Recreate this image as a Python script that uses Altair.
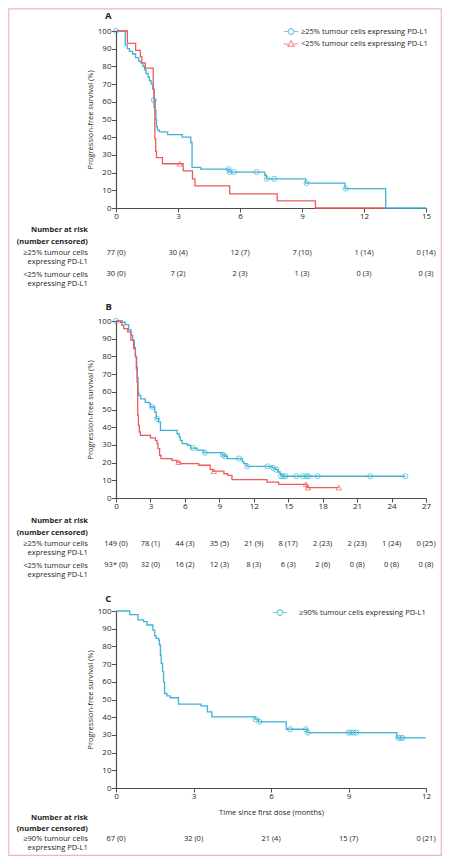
import altair as alt
import pandas as pd

FONT = "Open Sans"
INK = "#231f20"
AXIS_C = "#4d4d4d"
BLUE = "#3db3d6"
RED = "#ef5a5a"
PINK = "#f0b2c4"

HI25 = "≥25% tumour cells expressing PD-L1"
LO25 = "<25% tumour cells expressing PD-L1"
HI90 = "≥90% tumour cells expressing PD-L1"
ROW_HI25 = "≥25% tumour cells|expressing PD-L1"
ROW_LO25 = "<25% tumour cells|expressing PD-L1"
ROW_HI90 = "≥90% tumour cells|expressing PD-L1"

# ---------------- Panel A ----------------
a_hi_t = [0, 0.45, 0.55, 0.65, 0.8, 0.95, 1.1, 1.2, 1.3, 1.38, 1.45, 1.55, 1.62, 1.7, 1.78, 1.85, 1.9, 1.93,
          1.96, 2.0, 2.1, 2.5, 3.2, 3.62, 3.68, 4.1, 5.47, 7.2, 7.28, 9.18, 11.08, 13.05, 15]
a_hi_s = [100, 92, 90, 88.5, 87, 85, 83, 82, 80, 78, 76, 74, 72, 70, 67, 61, 55, 50,
          46, 44, 43, 41.5, 40, 37, 23, 22, 20.3, 18.5, 16.5, 14.1, 11, 0, 0]
a_hi_cens_t = [0, 1.83, 5.45, 5.5, 5.7, 6.8, 7.3, 7.65, 9.22, 11.12]
a_hi_cens_s = [100, 61, 22, 20.3, 20.3, 20.3, 16.5, 16.5, 14.1, 11]

a_lo_t = [0, 0.55, 0.95, 1.18, 1.25, 1.42, 1.8, 1.84, 1.88, 1.92, 1.96, 2.25, 3.25, 3.7, 3.82, 5.5, 7.8, 9.65, 13.05]
a_lo_s = [100, 93, 89, 85.5, 82, 79, 67, 57, 39, 32, 28.5, 25, 21, 16.5, 12.5, 8, 4, 0, 0]
a_lo_cens_t = [3.08]
a_lo_cens_s = [25]

risk_times_a = [0, 3, 6, 9, 12, 15]
risk_hi25_a = ["77 (0)", "30 (4)", "12 (7)", "7 (10)", "1 (14)", "0 (14)"]
risk_lo25_a = ["30 (0)", "7 (2)", "2 (3)", "1 (3)", "0 (3)", "0 (3)"]

# ---------------- Panel B ----------------
b_hi_t = [0, 0.38, 0.8, 1.1, 1.3, 1.45, 1.6, 1.69, 1.8, 1.86, 1.92, 1.98, 2.15, 2.55, 2.9, 3.0, 3.37, 3.5,
          3.7, 3.87, 5.32, 5.5, 5.6, 5.76, 6.2, 6.5, 7.06, 7.65, 9.25, 9.45, 9.7, 11.0, 11.13, 11.4, 13.6,
          13.9, 14.1, 14.3, 14.45, 25.2]
b_hi_s = [100, 99.3, 98, 95, 92, 89, 85, 80, 74, 68, 60, 58, 56, 54, 53.3, 51.4, 48.6, 44.8,
          43, 38.2, 36.3, 34.5, 32.6, 30.7, 29.8, 28.2, 27, 25.6, 24.4, 23.6, 22.3, 20.5, 19.4, 17.9, 17,
          16, 14.7, 13.4, 12.3, 12.3]
b_hi_cens_t = [0, 3.14, 3.57, 6.7, 7.74, 9.3, 9.5, 10.7, 11.42, 13.2, 13.67, 13.96, 14.37, 14.54, 14.75,
               15.7, 16.26, 16.58, 16.78, 17.56, 22.15, 25.2]
b_hi_cens_s = [100, 51.4, 44.8, 28.2, 25.6, 24.4, 23.6, 22.3, 17.9, 17.9, 17, 16, 12.3, 12.3, 12.3,
               12.3, 12.3, 12.3, 12.3, 12.3, 12.3, 12.3]

b_lo_t = [0, 0.52, 0.67, 1.02, 1.3, 1.54, 1.69, 1.77, 1.83, 1.89, 1.95, 2.03, 2.12, 3.0, 3.43, 3.58, 3.66,
          3.8, 3.92, 4.88, 5.3, 5.6, 7.2, 8.2, 8.42, 9.4, 9.74, 10.1, 13.15, 14.17, 16.62, 19.4]
b_lo_s = [100, 97.5, 95.7, 93.8, 89, 84.4, 79.7, 73, 65.5, 46.7, 41, 37.3, 35.4, 34, 32.6, 30.7, 27.9,
          24.1, 22.2, 21.3, 20.3, 19.4, 18.5, 16.2, 15.2, 13.7, 12.8, 10.4, 9.0, 7.7, 5.9, 5.9]
b_lo_cens_t = [5.45, 8.52, 16.55, 16.72, 19.4]
b_lo_cens_s = [20.3, 15.2, 7.7, 5.9, 5.9]

risk_times_b = [0, 3, 6, 9, 12, 15, 18, 21, 24, 27]
risk_hi25_b = ["149 (0)", "78 (1)", "44 (3)", "35 (5)", "21 (9)", "8 (17)", "2 (23)", "2 (23)", "1 (24)", "0 (25)"]
risk_lo25_b = ["93* (0)", "32 (0)", "16 (2)", "12 (3)", "8 (3)", "6 (3)", "2 (6)", "0 (8)", "0 (8)", "0 (8)"]

# ---------------- Panel C ----------------
c_t = [0, 0.53, 0.85, 1.07, 1.2, 1.43, 1.5, 1.55, 1.65, 1.68, 1.72, 1.75, 1.8, 1.84, 1.88, 1.97, 2.1, 2.42,
       3.29, 3.54, 3.71, 5.38, 5.52, 6.59, 7.4, 10.87, 11.99]
c_s = [100, 98, 95, 94, 92.1, 89.2, 86, 84.5, 83.6, 80.8, 75, 70.4, 65.7, 60, 53.4, 52, 51, 47.4,
       46.4, 43, 40.2, 38.9, 37.4, 33.2, 31.3, 28.3, 28.3]
c_cens_t = [5.4, 5.55, 6.74, 7.35, 7.43, 9.0, 9.1, 9.2, 9.3, 10.93, 11.02, 11.1]
c_cens_s = [38.9, 37.4, 33.2, 33.2, 31.3, 31.3, 31.3, 31.3, 31.3, 28.3, 28.3, 28.3]

risk_times_c = [0, 3, 6, 9, 12]
risk_hi90_c = ["67 (0)", "32 (0)", "21 (4)", "15 (7)", "0 (21)"]

# legend symbols: short line with marker in the middle
LEG_CIRCLE = "M-1.8,0L-0.7,0M0.7,0L1.8,0M0.7,0A0.7,0.7,0,1,1,-0.7,0A0.7,0.7,0,1,1,0.7,0"
LEG_TRIANGLE = "M-1.8,0L-0.78,0M0.78,0L1.8,0M0,-0.8L0.8,0.55L-0.8,0.55Z"

W = 310
H = 177


def panel(letter, letter_xy, xmax, curves, censors, legend_spec, rows, header_y, row_y, xtitle, border):
    groups = [c[0] for c in curves]
    colors = [c[1] for c in curves]

    x_kw = dict(values=list(range(0, xmax + 1, 3)), labelFlush=False, tickSize=4, labelPadding=0,
                labelFont=FONT, labelFontSize=8, labelColor=INK, domainColor=AXIS_C, domainWidth=1.2,
                tickColor=AXIS_C, tickWidth=1, grid=False)
    if xtitle:
        x_kw.update(title=xtitle, titleFont=FONT, titleFontSize=7.5, titleFontWeight="normal",
                    titleColor=INK, titleX=W / 2, titleY=24, titleBaseline="middle", titleAlign="center")
    else:
        x_kw.update(title=None)
    xenc = alt.X("t:Q", scale=alt.Scale(domain=[0, xmax], nice=False, zero=True), axis=alt.Axis(**x_kw))
    yenc = alt.Y("s:Q", scale=alt.Scale(domain=[0, 100], nice=False),
                 axis=alt.Axis(values=list(range(0, 101, 10)), tickSize=4.5, labelPadding=0.5,
                               labelFont=FONT, labelFontSize=8, labelColor=INK, domainColor=AXIS_C,
                               domainWidth=1.2, tickColor=AXIS_C, tickWidth=1, grid=False,
                               title="Progression-free survival (%)", titleFont=FONT, titleFontSize=7.5,
                               titleFontWeight="normal", titleColor=INK, titleX=-25.7, titleY=H / 2,
                               titleAngle=270, titleAlign="center", titleBaseline="middle"))

    layers = []
    for g, color, t, s in curves:
        df = pd.DataFrame({"group": g, "t": t, "s": s})
        layers.append(alt.Chart(df).mark_line(interpolate="step-after", strokeWidth=1.3, color=color).encode(
            x=xenc, y=yenc))
    for g, color, shape, size, t, s in censors:
        df = pd.DataFrame({"group": g, "t": t, "s": s})
        layers.append(alt.Chart(df).mark_point(shape=shape, filled=False, size=size, strokeWidth=1,
                                               color=color).encode(x=xenc, y=yenc))

    if legend_spec:
        lx, ly, loff, rpad, paths = legend_spec
        cscale = alt.Scale(domain=groups, range=colors)
        leg = alt.Legend(orient="none", legendX=lx, legendY=ly, title=None, padding=0,
                         labelFont=FONT, labelFontSize=7.5, labelColor=INK, labelLimit=300,
                         labelOffset=loff, rowPadding=rpad, symbolSize=64, symbolStrokeWidth=1.2)
        ldf = pd.DataFrame({"group": groups, "t": [None] * len(groups), "s": [None] * len(groups)})
        layers.append(alt.Chart(ldf).mark_point(filled=False, size=64, strokeWidth=1.2, invalid="filter").encode(
            x=xenc, y=yenc,
            color=alt.Color("group:N", scale=cscale, legend=leg),
            shape=alt.Shape("group:N", scale=alt.Scale(domain=groups, range=paths), legend=leg)))

    inner = alt.layer(*layers)

    row_labels = [r[0] for r in rows]
    tdf = pd.concat([pd.DataFrame({"row": lab, "t": times, "txt": vals}) for lab, times, vals in rows])
    table = alt.Chart(tdf).mark_text(font=FONT, fontSize=7.5, color=INK, align="center",
                                     baseline="middle").encode(
        x=xenc,
        y=alt.Y("row:N", scale=alt.Scale(domain=row_labels, range=row_y, padding=0),
                axis=alt.Axis(orient="left", domain=False, ticks=False, tickSize=0, grid=False,
                              labelPadding=28.7, labelFont=FONT, labelFontSize=7.5, labelColor=INK,
                              labelAlign="right", labelBaseline="middle", labelLineHeight=9.3,
                              labelOffset=0, labelLimit=300,
                              labelExpr="split(datum.label, '|')",
                              title=["Number at risk", "(number censored)"], titleAngle=0,
                              titleAlign="right", titleBaseline="middle", titleX=-28.7, titleY=header_y,
                              titleFont=FONT, titleFontSize=7.5, titleFontWeight="bold",
                              titleColor=INK, titleLineHeight=11.7)),
        text="txt:N")

    letter_layer = alt.Chart(pd.DataFrame({"letter": [letter]})).mark_text(
        font=FONT, fontSize=9.5, fontWeight="bold", color=INK, align="center", baseline="middle").encode(
        x=alt.value(letter_xy[0]), y=alt.value(letter_xy[1]), text="letter:N")

    parts = [inner, table, letter_layer]
    if border:
        bx1, by1, bx2, by2 = border
        parts.append(alt.Chart(pd.DataFrame({"b": [0]})).mark_rect(filled=False, color=PINK,
                                                                    strokeWidth=1.2).encode(
            x=alt.value(bx1), y=alt.value(by1), x2=alt.value(bx2), y2=alt.value(by2)))

    return alt.layer(*parts).resolve_scale(y="independent").properties(width=W, height=H)


pA = panel(
    "A", (-7.7, -15.2), 15,
    [(HI25, BLUE, a_hi_t, a_hi_s), (LO25, RED, a_lo_t, a_lo_s)],
    [(HI25, BLUE, "circle", 26, a_hi_cens_t, a_hi_cens_s),
     (LO25, RED, "triangle-up", 30, a_lo_cens_t, a_lo_cens_s)],
    (170, -4.5, 5, 0.5, [LEG_CIRCLE, LEG_TRIANGLE]),
    [(ROW_HI25, risk_times_a, risk_hi25_a), (ROW_LO25, risk_times_a, risk_lo25_a)],
    198.5, [221.6, 243.3], None,
    (-107.2, -22.2, 325.3, 824.3),
)

pB = panel(
    "B", (-7.2, -14), 27,
    [(HI25, BLUE, b_hi_t, b_hi_s), (LO25, RED, b_lo_t, b_lo_s)],
    [(HI25, BLUE, "circle", 26, b_hi_cens_t, b_hi_cens_s),
     (LO25, RED, "triangle-up", 30, b_lo_cens_t, b_lo_cens_s)],
    None,
    [(ROW_HI25, risk_times_b, risk_hi25_b), (ROW_LO25, risk_times_b, risk_lo25_b)],
    199.6, [222.6, 244.3], None,
    None,
)

pC = panel(
    "C", (-7.7, -12.2), 12,
    [(HI90, BLUE, c_t, c_s)],
    [(HI90, BLUE, "circle", 26, c_cens_t, c_cens_s)],
    (159, -3.5, 14, 0.5, [LEG_CIRCLE]),
    [(ROW_HI90, risk_times_c, risk_hi90_c)],
    206, [227.6, 227.6], "Time since first dose (months)",
    None,
)

chart = alt.vconcat(pA, pB, pC, spacing=113, bounds="flush").resolve_scale(
    color="independent", shape="independent").properties(padding=0).configure_view(strokeWidth=0)

chart.save("out.html", embed_options={"renderer": "svg", "actions": False})
